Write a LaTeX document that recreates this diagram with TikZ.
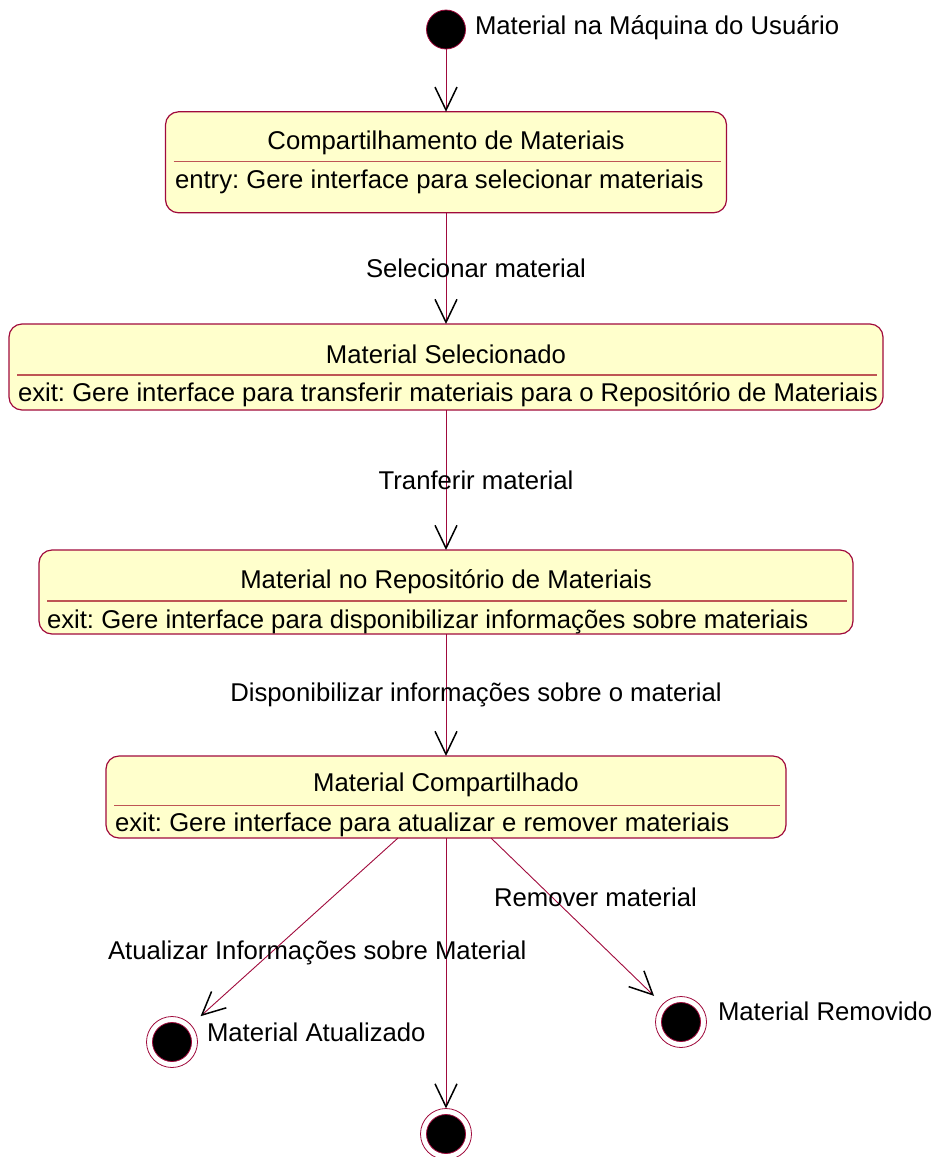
\documentclass[tikz,border=0pt]{standalone}
\usepackage{fontspec}
\setmainfont{Liberation Sans}
\usetikzlibrary{arrows.meta,calc}
\definecolor{umlred}{RGB}{160,10,60}
\definecolor{umlsep}{RGB}{190,85,85}
\definecolor{umlfill}{RGB}{255,255,204}
\frenchspacing
\begin{document}
\begin{tikzpicture}[x=1pt,y=-1pt,
  every node/.style={font=\fontsize{25.7}{30}\selectfont, inner sep=0pt, outer sep=0pt},
  statebox/.style={draw=umlred, fill=umlfill, rounded corners=13pt, line width=1.2pt},
  sepline/.style={draw=umlsep, line width=1.2pt},
  initst/.style={circle, draw=umlred, fill=black, line width=0.8pt, minimum size=39pt},
  finalst/.style={circle, draw=umlred, fill=white, line width=0.8pt, minimum size=51pt,
    path picture={\filldraw[fill=black, draw=umlred, line width=0.8pt]
      (path picture bounding box.center) circle (19.5pt);}},
  flow/.style={draw=umlred, line width=0.9pt,
    -{Straight Barb[length=23pt, width=22pt, color=black, line width=1.5pt]}},
  lbl/.style={anchor=base},
  lblw/.style={anchor=base west}
]
\useasboundingbox (0,0) rectangle (932,1157);

% initial state
\node[initst] (init) at (446,29.5) {};
\node[lblw] (initlbl) at (475,34) {Material na Máquina do Usuário};

% state boxes
\node[statebox, minimum width=561pt, minimum height=101pt] (b1) at (446,162.3) {};
\node[statebox, minimum width=874pt, minimum height=86pt] (b2) at (446,367) {};
\node[statebox, minimum width=814pt, minimum height=84pt] (b3) at (446,592) {};
\node[statebox, minimum width=680pt, minimum height=82pt] (b4) at (446,797) {};

% compartment separators
\foreach \b/\dy in {b1/50, b2/51, b3/51, b4/49.6}{
  \draw[sepline] ($(\b.north west)+(8,\dy)$) -- ($(\b.north east)+(-6,\dy)$);
}

% state names and actions
\node[lbl] (t1) at (446,149) {Compartilhamento de Materiais};
\node[lblw] (a1) at (175,188) {entry: Gere interface para selecionar materiais};
\node[lbl] (t2) at (446,363) {Material Selecionado};
\node[lblw] (a2) at (18,401.5) {exit: Gere interface para transferir materiais para o Repositório de Materiais};
\node[lbl] (t3) at (446,588) {Material no Repositório de Materiais};
\node[lblw] (a3) at (47,628) {exit: Gere interface para disponibilizar informações sobre materiais};
\node[lbl] (t4) at (446,791) {Material Compartilhado};
\node[lblw] (a4) at (115,831.5) {exit: Gere interface para atualizar e remover materiais};

% final states
\node[finalst] (f1) at (172,1042) {};
\node[finalst] (f2) at (681,1022) {};
\node[finalst] (f3) at (446,1134) {};
\node[lblw] (f1lbl) at (207,1041) {Material Atualizado};
\node[lblw] (f2lbl) at (718,1020) {Material Removido};

% transitions
\draw[flow] (init) -- (b1.north);
\draw[flow] (b1.south) -- (b2.north);
\draw[flow] (b2.south) -- (b3.north);
\draw[flow] (b3.south) -- (b4.north);
\draw[flow, shorten >=13pt] ([xshift=-48pt]b4.south) -- (f1);
\draw[flow] (b4.south) -- (f3.north);
\draw[flow, shorten >=12pt] ([xshift=45pt]b4.south) -- (f2);

% transition labels
\node[lbl] (e1) at (476,277) {Selecionar material};
\node[lbl] (e2) at (476,489) {Tranferir material};
\node[lbl] (e3) at (476,701) {Disponibilizar informações sobre o material};
\node[lblw] (e4) at (108,959) {Atualizar Informações sobre Material};
\node[lblw] (e5) at (494,906) {Remover material};
\end{tikzpicture}
\end{document}
